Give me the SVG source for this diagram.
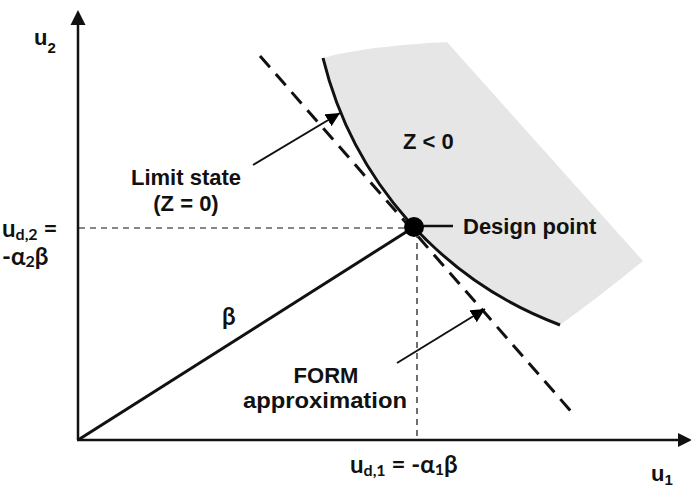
<svg xmlns="http://www.w3.org/2000/svg" width="691" height="490" viewBox="0 0 691 490">
<defs>
<marker id="ah" viewBox="0 0 10 10" refX="10" refY="5" markerWidth="7" markerHeight="7" markerUnits="strokeWidth" orient="auto">
<path d="M0,0 L10,5 L0,10 z" fill="#000"/>
</marker>
</defs>
<style>
.lbl{font-family:"Liberation Sans",Arial,sans-serif;font-weight:bold;font-size:22px;fill:#111}
.cal{font-family:Lato,"Open Sans",sans-serif;font-weight:bold;font-size:24px;fill:#111}
.sub{font-size:16px}
.ax{stroke:#111;stroke-width:2.5;fill:none}
.thin{stroke:#111;stroke-width:1.2;stroke-dasharray:6,5;fill:none}
.ptr{stroke:#111;stroke-width:2;fill:none}
</style>
<rect width="691" height="490" fill="#fff"/>

<g id="failure-region">
<path d="M327,57 C360,48 410,44 447,42 L643,261 Q600,296 560,325 A382,382 0 0,1 323,58 Z" fill="#e6e6e6"/>
<text class="lbl" x="403" y="149">Z &lt; 0</text>
</g>

<g id="connectors">
<line class="thin" x1="79" y1="228" x2="410" y2="228"/>
<line class="thin" x1="417" y1="232" x2="417" y2="439"/>
<path class="ax" d="M78,440 L78,24"/>
<path d="M70.5,25 L78,10 L85.5,25 Z" fill="#111"/>
<path class="ax" d="M77,440 L680,440"/>
<path d="M678,433 L692,440 L678,447 Z" fill="#111"/>
<line x1="78" y1="440" x2="414" y2="227" stroke="#111" stroke-width="3"/>
<line x1="260" y1="56" x2="576" y2="417" stroke="#111" stroke-width="3" stroke-dasharray="15,9"/>
<path d="M323,58 A382,382 0 0,0 560,325" stroke="#111" stroke-width="3" fill="none"/>
<line class="ptr" x1="253" y1="165" x2="340" y2="113" marker-end="url(#ah)"/>
<line class="ptr" x1="397" y1="363" x2="485" y2="309" marker-end="url(#ah)"/>
<line x1="414" y1="226" x2="453" y2="226" stroke="#111" stroke-width="2.5"/>
</g>

<g id="design-point">
<circle cx="414" cy="227" r="10" fill="#000"/>
<text class="lbl" x="463" y="234">Design point</text>
</g>

<g id="limit-state-label">
<text class="lbl" x="186" y="185" text-anchor="middle">Limit state</text>
<text class="lbl" x="186" y="211" text-anchor="middle">(Z = 0)</text>
</g>

<g id="form-label">
<text class="lbl" x="326" y="383" text-anchor="middle">FORM</text>
<text class="lbl" x="325" y="408" text-anchor="middle" textLength="164" lengthAdjust="spacingAndGlyphs">approximation</text>
</g>

<g id="beta-label">
<text class="cal" x="222" y="325">β</text>
</g>

<g id="axis-labels">
<text class="lbl" x="34" y="45">u<tspan font-size="15" dy="8">2</tspan></text>
<text class="lbl" x="651" y="481">u<tspan font-size="15" dy="4">1</tspan></text>
<text class="cal" x="2" y="237">u<tspan class="sub" dy="3">d,2</tspan><tspan dy="-3"> =</tspan></text>
<text class="cal" x="2" y="265">-α<tspan class="sub" dy="2">2</tspan><tspan dy="-2">β</tspan></text>
<text class="cal" x="350" y="473">u<tspan class="sub" dy="3">d,1</tspan><tspan dy="-3"> = -α</tspan><tspan class="sub" dy="2">1</tspan><tspan dy="-2">β</tspan></text>
</g>
</svg>
